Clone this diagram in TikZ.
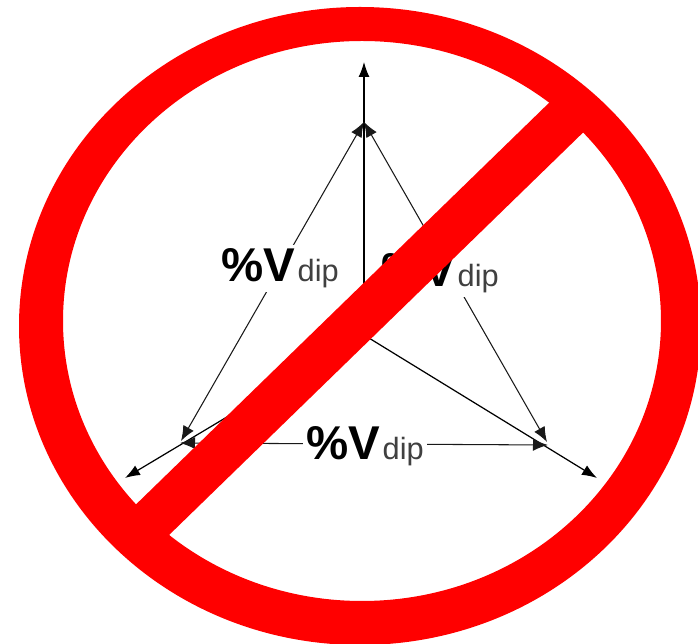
\documentclass[tikz,border=0pt]{standalone}
\usepackage{fontspec}
\setmainfont{Liberation Sans}
\usetikzlibrary{arrows.meta}
\definecolor{signred}{RGB}{255,0,0}
\newcommand{\vdip}{{\fontsize{27}{27}\selectfont\bfseries\%V}\kern1.5pt{\fontsize{17.5}{17.5}\selectfont\color{black!75}dip}}
\begin{document}
\begin{tikzpicture}[x=.02cm,y=-.02cm,a/.style={-{Latex[length=3mm,width=2.2mm]},draw=black,line width=.7pt},both/.style={{Latex[length=3mm,width=2.4mm]}-{Latex[length=3mm,width=2.4mm]},draw=black!90,line width=.6pt},lab/.style={fill=white,anchor=base,inner sep=2pt,text=black}]
\useasboundingbox (0,0) rectangle (698,644);
\coordinate (centre) at (364,335);
\coordinate (top) at (364,122);
\coordinate (left) at (181,441);
\coordinate (right) at (547,442);
\coordinate (bottomleft) at (180,443);
\coordinate (bottomright) at (548,445);
\coordinate (topend) at (364,62);
\coordinate (leftend) at (125,478);
\coordinate (rightend) at (597,478);
\draw[a] (centre)--(topend);
\draw[a] (centre)--(leftend);
\draw[a] (centre)--(rightend);
\draw[both] (top)--(left);
\draw[both] (top)--(right);
\draw[both] (bottomleft)--(bottomright);
\node[lab] (labelleft) at (280,282) {\vdip};
\node[lab] (labelright) at (440,287) {\vdip};
\node[lab] (labelbottom) at (365,460) {\vdip};
\fill[signred,even odd rule] (360,326) ellipse [x radius=341,y radius=319] (362,321) ellipse [x radius=299,y radius=280];
\coordinate (barlow) at (143.5,528.5);
\coordinate (barhigh) at (575,109);
\draw[signred,line width=45*.02cm] (barlow)--(barhigh);
\end{tikzpicture}
\end{document}
